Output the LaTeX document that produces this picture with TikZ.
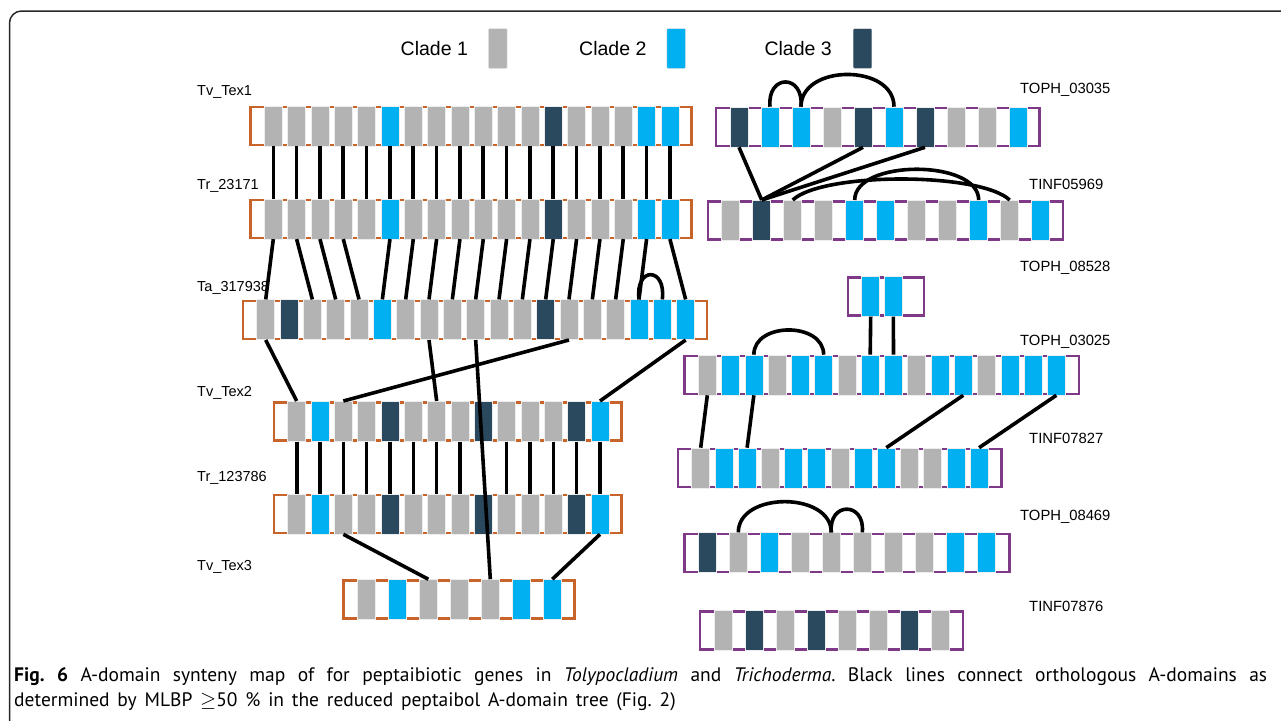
\documentclass[tikz,border=0pt]{standalone}
\usepackage{fontspec}
\setmainfont{Liberation Sans}
\newfontfamily\capfont{PT Sans}
\usetikzlibrary{positioning}

\definecolor{gr}{RGB}{179,179,179}
\definecolor{bl}{RGB}{0,176,240}
\definecolor{dk}{RGB}{43,73,94}
\definecolor{trich}{RGB}{200,100,42}
\definecolor{tolyp}{RGB}{126,58,134}

\tikzset{
  genebox/.style={rectangle, minimum height=38pt, inner sep=0pt, line width=2.4pt, fill=white},
  dom/.style={rectangle, minimum width=18pt, minimum height=40pt, inner sep=0pt, draw=black!7, line width=0.6pt},
  link/.style={line width=3.6pt},
  lab/.style={anchor=west, inner sep=0pt, font=\fontsize{14.5}{17}\selectfont},
  labr/.style={lab, font=\fontsize{14.8}{17}\selectfont},
  clade/.style={inner sep=0pt, font=\fontsize{19.5}{22}\selectfont},
  swatch/.style={rectangle, minimum width=18.7pt, minimum height=40pt, inner sep=0pt, rounded corners=1pt, draw=black!10, line width=0.5pt}
}

% name, left, right, y, pitch, frame colour, clades
\newcommand{\gene}[7]{%
  \node[genebox, draw=#6, minimum width={(#3-#2-2.4)*1pt}] (#1) at ({(#2+#3)/2},#4) {};
  \foreach \cl [count=\i] in {#7}
    \node[dom, fill=\cl] (#1-\i) at ({#2+24+(\i-1)*#5},#4) {};
}

\begin{document}
\begin{tikzpicture}[x=1pt, y=-1pt]
  \useasboundingbox (0,0) rectangle (1281,720);
  \draw[line width=1.5pt, black!85, rounded corners=12pt] (1290,11) -- (9.5,11) -- (9.5,730);

  \node[swatch, fill=gr] (sw1) at (497.7,48.5) {};
  \node[swatch, fill=bl] (sw2) at (676.2,48.5) {};
  \node[swatch, fill=dk] (sw3) at (862.5,48.5) {};
  \node[clade, left=20pt of sw1] (cl1) {Clade 1};
  \node[clade, left=20pt of sw2] (cl2) {Clade 2};
  \node[clade, left=21pt of sw3] (cl3) {Clade 3};

  \gene{tex1}{249.3}{692.7}{125.9}{23.33}{trich}{gr,gr,gr,gr,gr,bl,gr,gr,gr,gr,gr,gr,dk,gr,gr,gr,bl,bl}
  \gene{tr23}{249.3}{692.7}{218.8}{23.33}{trich}{gr,gr,gr,gr,gr,bl,gr,gr,gr,gr,gr,gr,dk,gr,gr,gr,bl,bl}
  \gene{ta31}{241.7}{708.3}{319.7}{23.33}{trich}{gr,dk,gr,gr,gr,bl,gr,gr,gr,gr,gr,gr,dk,gr,gr,gr,bl,bl,bl}
  \gene{tex2}{272.7}{622.7}{421.3}{23.33}{trich}{gr,bl,gr,gr,dk,gr,gr,gr,dk,gr,gr,gr,dk,bl}
  \gene{tr12}{272.7}{622.7}{514}{23.33}{trich}{gr,bl,gr,gr,dk,gr,gr,gr,dk,gr,gr,gr,dk,bl}
  \gene{tex3}{342.3}{575.7}{599.5}{31}{trich}{gr,bl,gr,gr,gr,bl,bl}

  \gene{t035}{715}{1040.7}{127}{31}{tolyp}{dk,bl,bl,gr,dk,bl,dk,gr,gr,bl}
  \gene{i969}{706.7}{1064.3}{220.3}{31}{tolyp}{gr,dk,gr,gr,bl,bl,gr,gr,bl,gr,bl}
  \gene{t528}{846.7}{925}{296.3}{22.7}{tolyp}{bl,bl}
  \gene{t025}{683.3}{1080}{375}{23.27}{tolyp}{gr,bl,bl,gr,bl,bl,gr,bl,bl,gr,bl,bl,gr,bl,bl,bl}
  \gene{i827}{676.7}{1002.7}{468}{23.2}{tolyp}{gr,bl,bl,gr,bl,bl,gr,bl,bl,gr,gr,bl,bl}
  \gene{t469}{683.3}{1010.7}{552.7}{31}{tolyp}{dk,gr,bl,gr,gr,gr,gr,gr,bl,bl}
  \gene{i876}{699}{964}{630.3}{31}{tolyp}{gr,dk,gr,dk,gr,gr,dk,gr}

  \node[lab] (n-tex1) at (197,92) {Tv\_Tex1};
  \node[lab] (n-tr23) at (197,186) {Tr\_23171};
  \node[lab] (n-ta31) at (197,288) {Ta\_317938};
  \node[lab] (n-tex2) at (197,393) {Tv\_Tex2};
  \node[lab] (n-tr12) at (197,478) {Tr\_123786};
  \node[lab] (n-tex3) at (197,567) {Tv\_Tex3};
  \node[labr] (n-t035) at (1020,90) {TOPH\_03035};
  \node[labr] (n-i969) at (1029,184) {TINF05969};
  \node[labr] (n-t528) at (1020,268) {TOPH\_08528};
  \node[labr] (n-t025) at (1020,342) {TOPH\_03025};
  \node[labr] (n-i827) at (1029,438) {TINF07827};
  \node[labr] (n-t469) at (1020,517) {TOPH\_08469};
  \node[labr] (n-i876) at (1029,606) {TINF07876};

  \foreach \i in {1,...,18}
    \draw[link] (tex1-\i.south) -- (tr23-\i.north);
  \foreach \a/\b in {1/1,2/3,3/4,4/5,6/6,7/7,8/8,9/9,10/10,11/11,12/12,13/13,14/14,15/15,16/16,17/17,18/19}
    \draw[link] (tr23-\a.south) -- (ta31-\b.north);
  \draw[link] (ta31-17.north) .. controls +(-4,-33) and +(4,-33) .. (ta31-18.north);
  \foreach \a/\b in {1/1,8/7,14/3,19/14}
    \draw[link] (ta31-\a.south) -- (tex2-\b.north);
  \foreach \i in {1,...,8,10,11,12,13,14}
    \draw[link] (tex2-\i.south) -- (tr12-\i.north);
  \foreach \a/\b in {3/3,14/7}
    \draw[link] (tr12-\a.south) -- (tex3-\b.north);
  \draw[link] (ta31-10.south) -- (tex3-5.north);

  \foreach \a in {1,5,7}
    \draw[link] (t035-\a.south) -- (i969-2.north);
  \draw[link] (t035-2.north) .. controls +(-3,-33) and +(3,-33) .. (t035-3.north);
  \draw[link] (t035-3.north) .. controls +(0,-43) and +(0,-43) .. (t035-6.north);
  \draw[link] (i969-3.north) .. controls +(30,-28) and +(-30,-28) .. (i969-10.north);
  \draw[link] (i969-5.north) .. controls +(0,-41) and +(0,-41) .. (i969-9.north);
  \foreach \a/\b in {1/8,2/9}
    \draw[link] (t528-\a.south) -- (t025-\b.north);
  \draw[link] (t025-3.north) .. controls +(0,-33) and +(0,-33) .. (t025-6.north);
  \foreach \a/\b in {1/1,3/3,12/9,16/13}
    \draw[link] (t025-\a.south) -- (i827-\b.north);
  \draw[link] (t469-2.north) .. controls +(0,-41) and +(0,-41) .. (t469-5.north);
  \draw[link] (t469-5.north) .. controls +(-3,-31) and +(3,-31) .. (t469-6.north);

  \node[anchor=north west, inner sep=0pt, text width=1253pt, align=justify,
        font=\capfont\fontsize{19.5}{25}\selectfont] (cap) at (14,667)
    {\frenchspacing\spaceskip=0.4em plus 0.5em minus 0.05em\relax
     \textbf{Fig.\ 6} A-domain synteny map of for peptaibiotic genes in \textit{Tolypocladium} and \textit{Trichoderma}. Black lines connect orthologous A-domains as\linebreak determined by MLBP $\geq$50~\% in the reduced peptaibol A-domain tree (Fig.~2)};
\end{tikzpicture}
\end{document}
